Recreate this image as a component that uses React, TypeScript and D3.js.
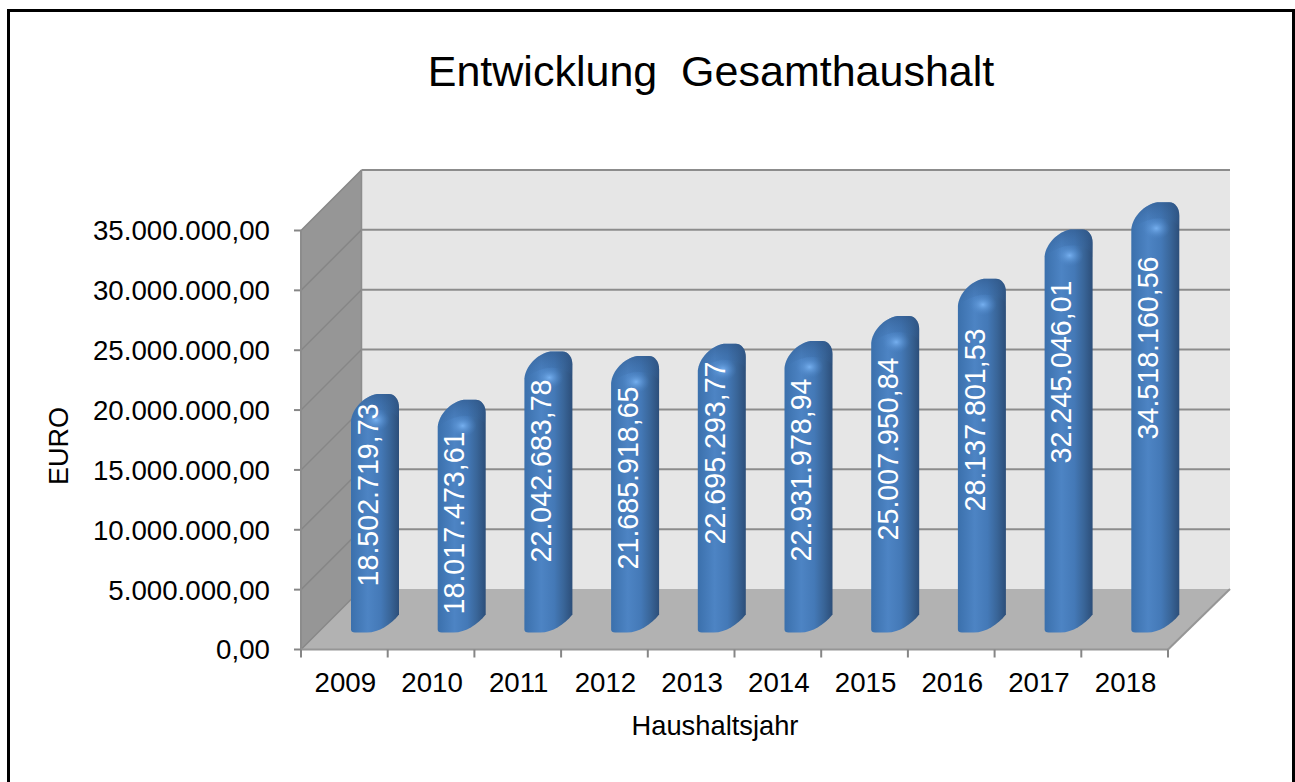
import * as d3 from 'd3'

const WIDTH = 1295
const HEIGHT = 782

// Werte aus dem Diagramm
const YEARS = ['2009', '2010', '2011', '2012', '2013', '2014', '2015', '2016', '2017', '2018']
const VALUES = [
  18502719.73, 18017473.61, 22042683.78, 21685918.65, 22695293.77,
  22931978.94, 25007950.84, 28137801.53, 32245046.01, 34518160.56
]
const VALUE_LABELS = [
  '18.502.719,73', '18.017.473,61', '22.042.683,78', '21.685.918,65', '22.695.293,77',
  '22.931.978,94', '25.007.950,84', '28.137.801,53', '32.245.046,01', '34.518.160,56'
]
const Y_TICKS = [0, 5000000, 10000000, 15000000, 20000000, 25000000, 30000000, 35000000]
const Y_TICK_LABELS = [
  '0,00', '5.000.000,00', '10.000.000,00', '15.000.000,00',
  '20.000.000,00', '25.000.000,00', '30.000.000,00', '35.000.000,00'
]

// Excel places the rotated labels a bit unevenly, so the centres are kept by hand
const LABEL_CENTERS = [495, 523, 471, 478, 453, 470, 449, 420, 372, 348]

const FONT = '"Liberation Sans", Arial, sans-serif'
const DEPTH = 60.5
const FLOOR_Y = 649.5
const TOP_Y = 230.5
const LEFT_X = 301
const RIGHT_X = 1168
const BAR_OFFSET = 50
const BAR_WIDTH = 48
const BAR_BOTTOM = 632.5
const TOP_RISE = 34

const x = d3.scaleBand<string>().domain(YEARS).range([LEFT_X, RIGHT_X])
const y = d3.scaleLinear().domain([0, 35000000]).range([FLOOR_Y, TOP_Y])

function barPath(left: number, top: number) {
  const right = left + BAR_WIDTH
  const p = d3.path()
  p.moveTo(left, BAR_BOTTOM - 3)
  p.lineTo(left, top + 27)
  p.bezierCurveTo(left + 1, top + 15, left + 13, top + 2, left + 26, top)
  p.lineTo(left + 38, top)
  p.bezierCurveTo(left + 44, top, right, top + 6, right, top + 13)
  p.lineTo(right, BAR_BOTTOM - 18)
  p.bezierCurveTo(left + 40, BAR_BOTTOM - 8, left + 28, BAR_BOTTOM, left + 16, BAR_BOTTOM)
  p.lineTo(left + 4, BAR_BOTTOM)
  p.quadraticCurveTo(left, BAR_BOTTOM, left, BAR_BOTTOM - 3)
  p.closePath()
  return p.toString()
}

function capPath(left: number, top: number) {
  const right = left + BAR_WIDTH
  const p = d3.path()
  p.moveTo(left, top + 27)
  p.bezierCurveTo(left + 1, top + 15, left + 13, top + 2, left + 26, top)
  p.lineTo(left + 38, top)
  p.bezierCurveTo(left + 44, top, right, top + 6, right, top + 13)
  p.lineTo(right, top + 24)
  p.bezierCurveTo(right - 10, top + 14, left + 20, top + 12, left, top + 27)
  p.closePath()
  return p.toString()
}

export default function App() {
  const corners = {
    backLeft: LEFT_X + DEPTH,
    backRight: RIGHT_X + 62,
    backFloor: FLOOR_Y - DEPTH,
    backTop: TOP_Y - DEPTH
  }
  const axisTicks = [...YEARS.map(d => x(d) as number), RIGHT_X]

  return (
    <svg
      width={WIDTH}
      height={HEIGHT}
      viewBox={`0 0 ${WIDTH} ${HEIGHT}`}
      style={{ position: 'absolute', left: 0, top: 0, fontFamily: FONT }}
    >
      <defs>
        <linearGradient id="bar-body" x1="0" y1="0" x2="1" y2="0">
          <stop offset="0%" stopColor="#3b70ac" />
          <stop offset="35%" stopColor="#4d84c4" />
          <stop offset="62%" stopColor="#4479b7" />
          <stop offset="82%" stopColor="#396598" />
          <stop offset="100%" stopColor="#2c4e79" />
        </linearGradient>
        <linearGradient id="bar-cap" x1="0" y1="0" x2="0" y2="1">
          <stop offset="0%" stopColor="#2f5789" stopOpacity={0.6} />
          <stop offset="100%" stopColor="#3a6ca8" stopOpacity={0} />
        </linearGradient>
        <radialGradient id="bar-glow">
          <stop offset="0%" stopColor="#78b2f2" stopOpacity={0.95} />
          <stop offset="100%" stopColor="#4d85c6" stopOpacity={0} />
        </radialGradient>
      </defs>

      <rect x={0} y={0} width={WIDTH} height={HEIGHT} fill="#ffffff" />

      {/* Rahmen, unten abgeschnitten */}
      <path d={`M8.5,${HEIGHT} V10.5 H1293.5 V${HEIGHT}`} fill="none" stroke="#000000" strokeWidth={3} />

      <text x={711} y={86} fontSize={43} textAnchor="middle" fill="#000000" style={{ whiteSpace: 'pre' }}>
        {'Entwicklung  Gesamthaushalt'}
      </text>

      {/* Rückwand, Seitenwand, Boden */}
      <rect
        x={corners.backLeft}
        y={corners.backTop}
        width={corners.backRight - corners.backLeft}
        height={corners.backFloor - corners.backTop}
        fill="#e6e6e6"
      />
      <polygon
        points={`${LEFT_X},${TOP_Y} ${corners.backLeft},${corners.backTop} ${corners.backLeft},${corners.backFloor} ${LEFT_X},${FLOOR_Y}`}
        fill="#969696"
      />
      <polygon
        points={`${LEFT_X},${FLOOR_Y} ${RIGHT_X},${FLOOR_Y} ${corners.backRight},${corners.backFloor} ${corners.backLeft},${corners.backFloor}`}
        fill="#b2b2b2"
      />

      {/* Gitternetz */}
      {Y_TICKS.map(t => (
        <g key={t}>
          <line
            x1={LEFT_X}
            x2={corners.backLeft}
            y1={y(t)}
            y2={y(t) - DEPTH}
            stroke="#868686"
            strokeWidth={1.5}
          />
          {t > 0 && (
            <line
              x1={corners.backLeft}
              x2={corners.backRight}
              y1={y(t) - DEPTH}
              y2={y(t) - DEPTH}
              stroke="#8c8c8c"
              strokeWidth={2}
            />
          )}
          <line x1={LEFT_X - 7} x2={LEFT_X} y1={y(t)} y2={y(t)} stroke="#868686" strokeWidth={2} />
        </g>
      ))}
      <line x1={corners.backLeft} x2={corners.backLeft} y1={corners.backTop} y2={corners.backFloor} stroke="#8c8c8c" strokeWidth={1.5} />
      <line x1={LEFT_X} x2={LEFT_X} y1={TOP_Y} y2={FLOOR_Y} stroke="#8c8c8c" strokeWidth={2} />
      <line x1={RIGHT_X} x2={corners.backRight} y1={FLOOR_Y} y2={corners.backFloor} stroke="#969696" strokeWidth={2} />
      <line x1={LEFT_X} x2={RIGHT_X} y1={FLOOR_Y} y2={FLOOR_Y} stroke="#969696" strokeWidth={2} />
      {axisTicks.map(t => (
        <line key={t} x1={t} x2={t} y1={FLOOR_Y} y2={FLOOR_Y + 8} stroke="#868686" strokeWidth={2} />
      ))}

      {/* Säulen */}
      {YEARS.map((year, i) => {
        const left = (x(year) as number) + BAR_OFFSET
        const top = y(VALUES[i]) - TOP_RISE
        return (
          <g key={year}>
            <path d={barPath(left, top)} fill="url(#bar-body)" />
            <path d={capPath(left, top)} fill="url(#bar-cap)" />
            <ellipse cx={left + 25} cy={top + 26} rx={14} ry={11} fill="url(#bar-glow)" />
            <text
              transform={`translate(${left + 16.5},${LABEL_CENTERS[i]}) rotate(-90)`}
              fontSize={28.6}
              textAnchor="middle"
              dy="0.36em"
              fill="#ffffff"
            >
              {VALUE_LABELS[i]}
            </text>
          </g>
        )
      })}

      {/* Achsenbeschriftung */}
      {Y_TICKS.map((t, i) => (
        <text key={t} x={270} y={y(t)} dy="0.36em" fontSize={27.7} textAnchor="end" fill="#000000">
          {Y_TICK_LABELS[i]}
        </text>
      ))}
      {YEARS.map(year => (
        <text
          key={year}
          x={(x(year) as number) + x.bandwidth() / 2 + 1}
          y={692}
          fontSize={27.7}
          textAnchor="middle"
          fill="#000000"
        >
          {year}
        </text>
      ))}
      <text x={715} y={735} fontSize={27.3} textAnchor="middle" fill="#000000">Haushaltsjahr</text>
      <text transform="translate(68,446) rotate(-90)" fontSize={27} textAnchor="middle" fill="#000000">EURO</text>
    </svg>
  )
}
